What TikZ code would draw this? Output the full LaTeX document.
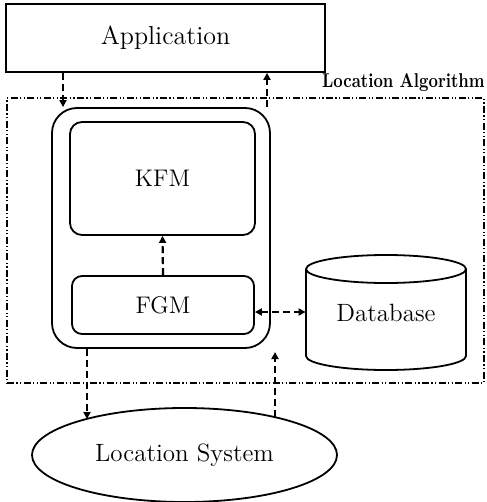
\documentclass[tikz,border=0pt]{standalone}
\usetikzlibrary{arrows.meta,shapes.geometric}
\begin{document}
\begin{tikzpicture}[x=0.5pt,y=-0.5pt,
  box/.style={draw,line width=0.9pt,inner sep=0pt,font=\fontsize{12}{14}\selectfont},
  conn/.style={line width=1.1pt,dash pattern=on 3.5pt off 2pt,-{Triangle[length=3.5pt,width=3.5pt]}},
  conn2/.style={line width=1.1pt,dash pattern=on 3.5pt off 2pt,{Triangle[length=3.5pt,width=3.5pt]}-{Triangle[length=3.5pt,width=3.5pt]}},
  group/.style={draw,line width=0.8pt,dash pattern=on 3.5pt off 1.2pt on 0.6pt off 1.2pt on 0.6pt off 1.2pt,inner sep=0pt}]
\useasboundingbox (0,0) rectangle (486,502);
% container
\node[group,minimum width=238.5pt,minimum height=142.5pt] (la) at (245.5,240.5) {};
\node[anchor=base east,inner sep=0pt,font=\fontsize{10}{12}\selectfont\bfseries] (lab) at (485,88) {\scalebox{0.82}[1]{Location Algorithm}};
% application
\node[box,minimum width=159.5pt,minimum height=34pt,font=\fontsize{13}{15}\selectfont] (app) at (165.5,38) {Application};
% outer module
\node[box,rounded corners=12.5pt,minimum width=109pt,minimum height=120pt] (outer) at (161,228) {};
\node[box,rounded corners=6pt,minimum width=92.5pt,minimum height=56.5pt] (kfm) at (162.5,178.5) {KFM};
\node[box,rounded corners=5pt,minimum width=91pt,minimum height=29pt] (fgm) at (163,305) {FGM};
% database cylinder
\node[inner sep=0pt,minimum width=80pt,minimum height=57.5pt,font=\fontsize{12.5}{14}\selectfont] (db) at (386,312.5) {\raisebox{-3pt}{Database}};
\draw[line width=0.9pt] (386,269) ellipse[x radius=80,y radius=14];
\draw[line width=0.9pt] (306,269) -- (306,356) arc[start angle=180,end angle=360,x radius=80,y radius=-14] -- (466,269);
% location system
\node[draw,line width=0.9pt,ellipse,inner sep=0pt,minimum width=152.5pt,minimum height=47pt,font=\fontsize{12.5}{14}\selectfont] (ls) at (184.5,455) {Location System};
% helper coordinates
\coordinate (c1) at (63,0);
\coordinate (c2) at (267,0);
\coordinate (c4) at (0,312);
\coordinate (e5) at (87,419);
\coordinate (e6) at (275,417);
\coordinate (t6) at (275,352);
% connectors
\draw[conn] (app.south -| c1) -- (outer.north -| c1);
\draw[conn] (outer.north -| c2) -- (app.south -| c2);
\draw[conn] (fgm.north) -- (kfm.south);
\draw[conn2] (fgm.east |- c4) -- (db.west |- c4);
\draw[conn] (outer.south -| e5) -- (e5);
\draw[conn] (e6) -- (t6);
\end{tikzpicture}
\end{document}
